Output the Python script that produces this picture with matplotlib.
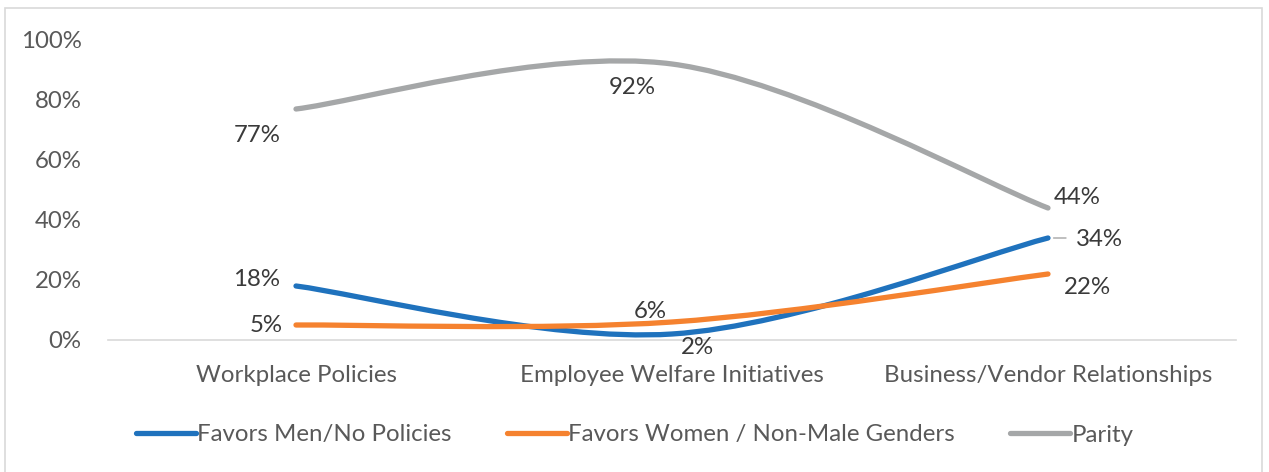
import matplotlib
matplotlib.use("Agg")
import matplotlib.pyplot as plt
from matplotlib.path import Path
from matplotlib.patches import PathPatch, Rectangle
from matplotlib.lines import Line2D
from matplotlib.ticker import PercentFormatter

# data
categories = ["Workplace Policies", "Employee Welfare Initiatives", "Business/Vendor Relationships"]
series_names = ["Favors Men/No Policies", "Favors Women / Non-Male Genders", "Parity"]
favors_men = [18, 2, 34]
favors_women = [5, 6, 22]
parity = [77, 92, 44]
y_ticks = [0, 20, 40, 60, 80, 100]

colors = ["#1F72BD", "#F5822F", "#A5A7A8"]
# label offsets in pixels, per series per point
label_offsets = [
    [(-39, 6), (25, -14), (51, -2)],
    [(-30, -1), (-22, 11), (39, -13)],
    [(-39, -26), (-40, -24), (29, 11)],
]

plt.rcParams['font.family'] = ['Lato', 'DejaVu Sans']
FS = 17.3


def smooth_path(xs, ys):
    # excel style smoothed line as cubic bezier segments
    n = len(xs)
    verts = [(xs[0], ys[0])]
    codes = [Path.MOVETO]
    for i in range(n - 1):
        a = max(i - 1, 0)
        d = min(i + 2, n - 1)
        c1 = (xs[i] + (xs[i + 1] - xs[a]) / 6, ys[i] + (ys[i + 1] - ys[a]) / 6)
        c2 = (xs[i + 1] - (xs[d] - xs[i]) / 6, ys[i + 1] - (ys[d] - ys[i]) / 6)
        verts += [c1, c2, (xs[i + 1], ys[i + 1])]
        codes += [Path.CURVE4] * 3
    return Path(verts, codes)


fig = plt.figure(figsize=(12.69, 4.72), dpi=100)
ax = fig.add_axes([108 / 1269, (472 - 340) / 472, (1236 - 108) / 1269, 300 / 472])

# outer border like the excel chart area
fig.patches.append(Rectangle((5 / 1269, -0.05), 1257 / 1269, 1.05 - 8 / 472,
                             transform=fig.transFigure, fill=False,
                             edgecolor="#D9D9D9", lw=1.2))

x = list(range(len(categories)))
all_series = [favors_men, favors_women, parity]
for vals, col, offs in zip(all_series, colors, label_offsets):
    p = PathPatch(smooth_path(x, vals), fill=False, edgecolor=col, lw=3.8,
                  capstyle="round", joinstyle="round", transform=ax.transData, zorder=3)
    ax.add_patch(p)
    for xi, v, off in zip(x, vals, offs):
        ax.annotate(f"{v}%", (xi, v), xytext=off, textcoords="offset pixels",
                    ha="center", va="center", fontsize=FS, color="#3A3A3A", zorder=4)

# leader line for the 34% label
ax.annotate("", (2, favors_men[2]), xytext=(18, 0), textcoords="offset pixels",
            arrowprops=dict(arrowstyle="-", color="#A5A5A5", lw=1, shrinkA=0, shrinkB=4))

ax.set_xlim(-0.5, 2.5)
ax.set_ylim(0, 100)
ax.set_xticks(x)
ax.set_xticklabels(categories)
ax.set_yticks(y_ticks)
ax.yaxis.set_major_formatter(PercentFormatter(decimals=0))
ax.tick_params(axis="both", length=0, labelsize=FS, colors="#595959")
ax.tick_params(axis="x", pad=18)
ax.tick_params(axis="y", pad=19)
for s in ["left", "right", "top"]:
    ax.spines[s].set_visible(False)
ax.spines["bottom"].set_color("#D9D9D9")
ax.spines["bottom"].set_linewidth(1.2)
ax.set_zorder(2)

handles = [Line2D([0], [0], color=c, lw=3.8, solid_capstyle="round") for c in colors]
fig.legend(handles, series_names, loc="center", bbox_to_anchor=(0.5, 1 - 435 / 472),
           ncol=3, frameon=False, fontsize=FS, handlelength=2.5, handletextpad=0.05,
           columnspacing=2.3, labelcolor="#595959")

fig.savefig("out.png", dpi=100)
